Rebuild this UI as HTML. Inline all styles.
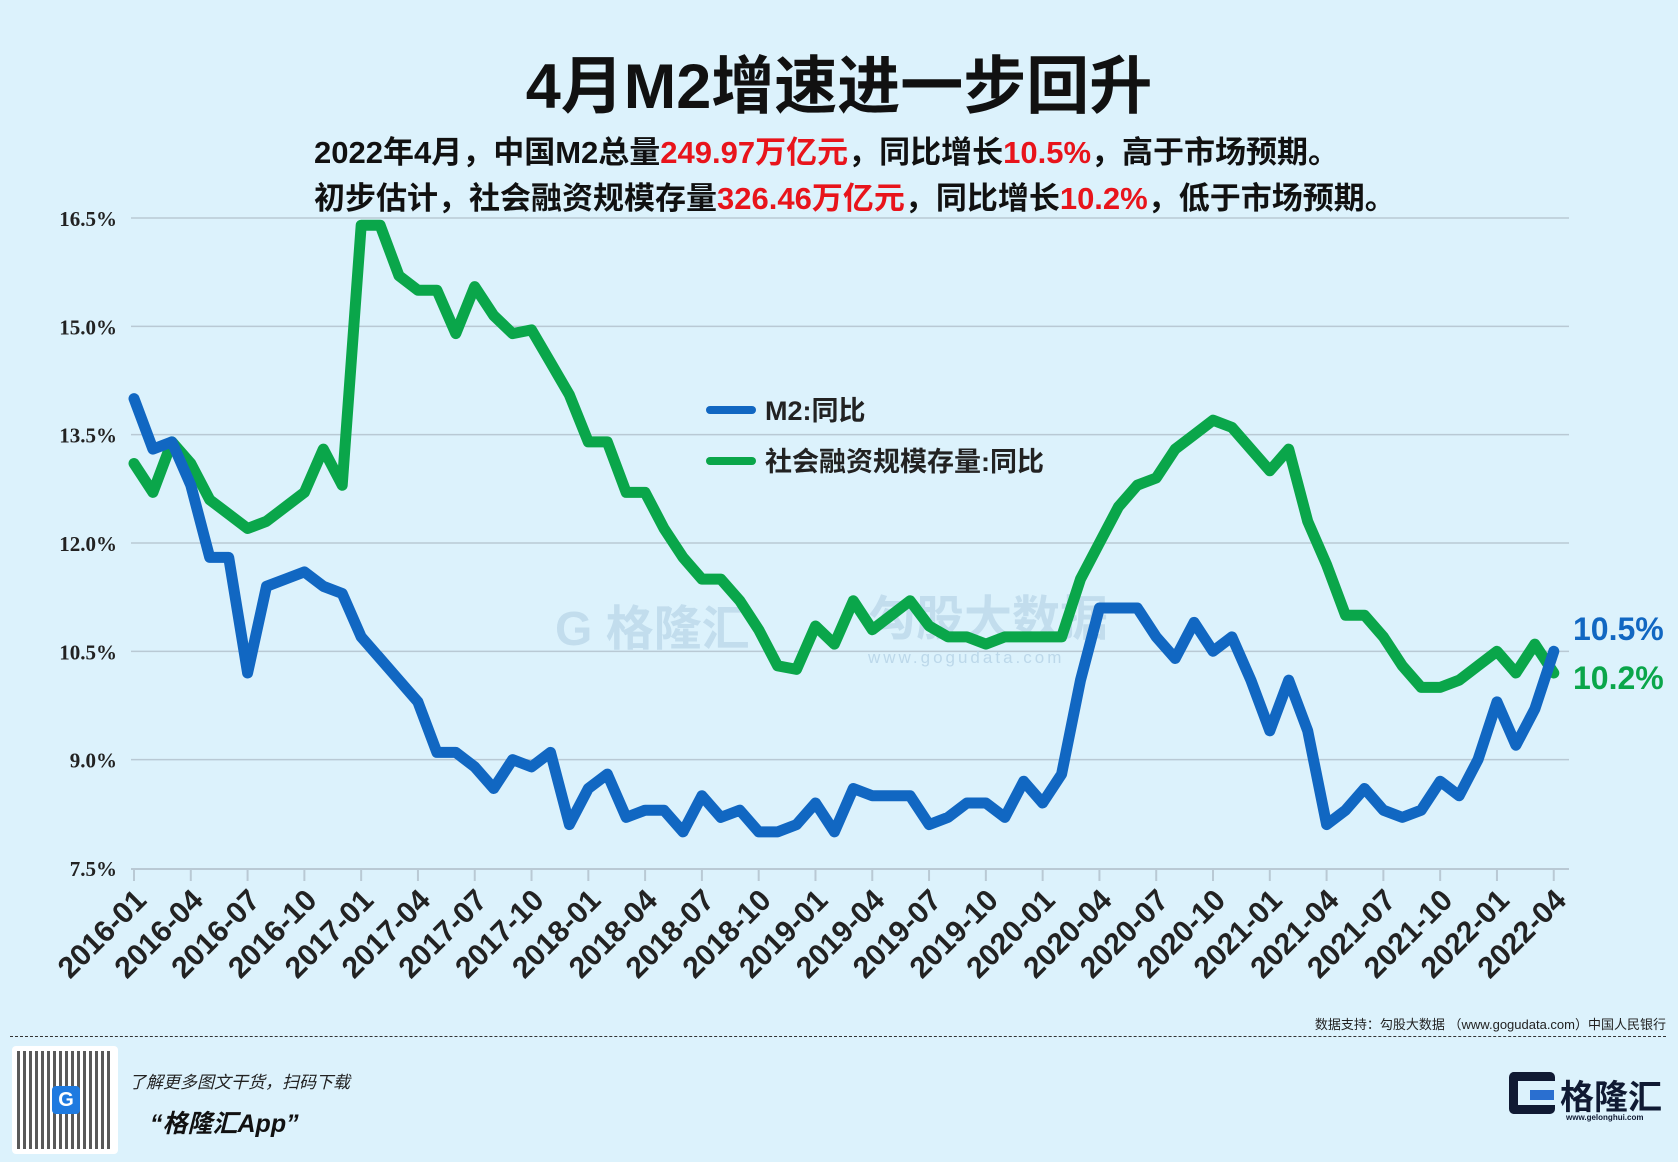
<!DOCTYPE html>
<html><head><meta charset="utf-8">
<style>
html,body{margin:0;padding:0;}
body{width:1678px;height:1162px;background:#dcf2fc;position:relative;overflow:hidden;font-family:"Liberation Sans","Noto Sans CJK SC",sans-serif;}
.t{position:absolute;white-space:nowrap;}
.red{color:#e8141b;}
</style></head><body>
<div class="t" style="left:0;width:1678px;text-align:center;top:36px;font-size:63px;font-weight:bold;color:#111;">4月M2增速进一步回升</div>
<div class="t" style="left:314px;top:127px;font-size:31px;font-weight:bold;color:#111;">2022年4月，中国M2总量<span class="red">249.97万亿元</span>，同比增长<span class="red">10.5%</span>，高于市场预期。</div>
<div class="t" style="left:314px;top:173px;font-size:31px;font-weight:bold;color:#111;">初步估计，社会融资规模存量<span class="red">326.46万亿元</span>，同比增长<span class="red">10.2%</span>，低于市场预期。</div>
<svg id="c" width="1678" height="1162" style="position:absolute;left:0;top:0;" xmlns="http://www.w3.org/2000/svg"></svg>
<div class="t" style="right:12px;top:1014px;font-size:13px;color:#222;">数据支持：勾股大数据 （www.gogudata.com）中国人民银行</div>
<div style="position:absolute;left:10px;right:12px;top:1036px;border-top:1.5px dashed #333;"></div>
<div style="position:absolute;left:12px;top:1046px;width:106px;height:108px;background:#fff;border-radius:4px;">
<div style="position:absolute;left:5px;top:5px;width:96px;height:98px;background:repeating-linear-gradient(90deg,#222 0 3px,#fff 3px 6px),#222;opacity:.75;"></div>
<div style="position:absolute;left:40px;top:40px;width:28px;height:28px;background:#1e7ae0;border-radius:4px;color:#fff;font-weight:bold;font-size:20px;text-align:center;line-height:28px;">G</div>
</div>
<div class="t" style="left:129px;top:1068px;font-size:17px;font-style:italic;color:#222;">了解更多图文干货，扫码下载</div>
<div class="t" style="left:150px;top:1104px;font-size:25px;font-style:italic;font-weight:bold;color:#111;">“格隆汇App”</div>
<div style="position:absolute;left:1509px;top:1072px;width:46px;height:42px;border:9px solid #101a33;border-right:none;border-radius:5px;box-sizing:border-box;"></div>
<div style="position:absolute;left:1530px;top:1090px;width:24px;height:10px;background:#2a6fd0;"></div>
<div class="t" style="left:1560px;top:1070px;font-size:34px;font-weight:bold;color:#101a33;">格隆汇</div>
<div class="t" style="left:1566px;top:1113px;font-size:8px;font-weight:bold;color:#101a33;">www.gelonghui.com</div>
<script>
var m2=[14.0,13.3,13.4,12.8,11.8,11.8,10.2,11.4,11.5,11.6,11.4,11.3,
10.7,10.4,10.1,9.8,9.1,9.1,8.9,8.6,9.0,8.9,9.1,8.1,
8.6,8.8,8.2,8.3,8.3,8.0,8.5,8.2,8.3,8.0,8.0,8.1,
8.4,8.0,8.6,8.5,8.5,8.5,8.1,8.2,8.4,8.4,8.2,8.7,
8.4,8.8,10.1,11.1,11.1,11.1,10.7,10.4,10.9,10.5,10.7,10.1,
9.4,10.1,9.4,8.1,8.3,8.6,8.3,8.2,8.3,8.7,8.5,9.0,
9.8,9.2,9.7,10.5];
var tsf=[13.1,12.7,13.4,13.1,12.6,12.4,12.2,12.3,12.5,12.7,13.3,12.8,
16.4,16.4,15.7,15.5,15.5,14.9,15.55,15.15,14.9,14.95,14.5,14.05,
13.4,13.4,12.7,12.7,12.2,11.8,11.5,11.5,11.2,10.8,10.3,10.25,
10.85,10.6,11.2,10.8,11.0,11.2,10.85,10.7,10.7,10.6,10.7,10.7,
10.7,10.7,11.5,12.0,12.5,12.8,12.9,13.3,13.5,13.7,13.6,13.3,
13.0,13.3,12.3,11.7,11.0,11.0,10.7,10.3,10.0,10.0,10.1,10.3,
10.5,10.2,10.6,10.2];
function X(i){return 134+18.93*i;}
function Y(v){return 218+(16.5-v)*72.22;}
var s='';
var labs=['16.5%','15.0%','13.5%','12.0%','10.5%','9.0%','7.5%'];
for(var k=0;k<7;k++){var y=218+k*108.33;
 if(k<6)s+='<line x1="131" x2="1569" y1="'+y+'" y2="'+y+'" stroke="#b9c9d4" stroke-width="1.5"/>';
 s+='<text x="117" y="'+(y+8)+'" text-anchor="end" font-family="Liberation Serif,serif" font-weight="bold" font-size="21" fill="#222">'+labs[k]+'</text>';}
s+='<line x1="131" x2="1569" y1="869" y2="869" stroke="#b9c9d4" stroke-width="2"/>';
for(var i=0;i<76;i+=3){var x=X(i);
 s+='<line x1="'+x+'" x2="'+x+'" y1="869" y2="881" stroke="#b9c9d4" stroke-width="2"/>';
 var yr=2016+Math.floor(i/12),mo=(i%12)+1;
 s+='<text transform="translate('+(x+14)+',902) rotate(-45)" text-anchor="end" font-weight="bold" font-size="30" fill="#222">'+yr+'-'+(mo<10?'0':'')+mo+'</text>';}
s+='<text x="555" y="645" font-size="48" font-weight="bold" fill="#bcd8ea" opacity="0.8">G 格隆汇</text>';
s+='<text x="868" y="635" font-size="48" font-weight="bold" fill="#bcd8ea" opacity="0.8">勾股大数据</text>';
s+='<text x="868" y="663" font-size="17" fill="#bcd8ea" letter-spacing="3">www.gogudata.com</text>';
function pl(d,c){var p=d.map(function(v,i){return X(i).toFixed(1)+','+Y(v).toFixed(1)}).join(' ');
 return '<polyline points="'+p+'" fill="none" stroke="'+c+'" stroke-width="11" stroke-linejoin="round" stroke-linecap="round"/>';}
s+=pl(tsf,'#0aa64a');s+=pl(m2,'#1167c2');
s+='<line x1="710" x2="752" y1="410" y2="410" stroke="#1167c2" stroke-width="8" stroke-linecap="round"/>';
s+='<text x="765" y="420" font-size="27" font-weight="bold" fill="#222">M2:同比</text>';
s+='<line x1="710" x2="752" y1="461" y2="461" stroke="#0aa64a" stroke-width="8" stroke-linecap="round"/>';
s+='<text x="765" y="471" font-size="27" font-weight="bold" fill="#222">社会融资规模存量:同比</text>';
s+='<text x="1573" y="640" font-size="32" font-weight="bold" fill="#1167c2">10.5%</text>';
s+='<text x="1573" y="689" font-size="32" font-weight="bold" fill="#0aa64a">10.2%</text>';
document.getElementById('c').innerHTML=s;
</script>
</body></html>
